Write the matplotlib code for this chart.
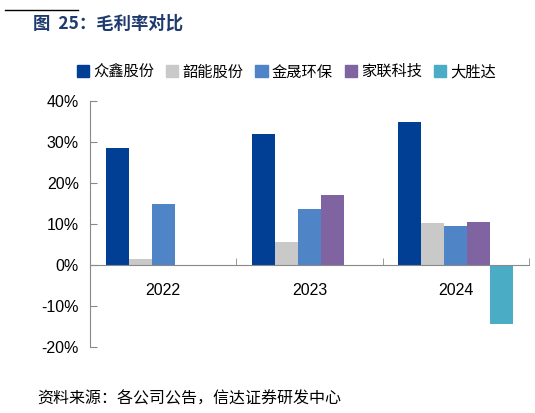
import numpy as np
import matplotlib.pyplot as plt
from matplotlib.ticker import PercentFormatter
from matplotlib.lines import Line2D

plt.rcParams['font.family'] = ['Noto Sans CJK SC', 'DejaVu Sans']
plt.rcParams['axes.unicode_minus'] = False

# data
years = ['2022', '2023', '2024']
companies = ['众鑫股份', '韶能股份', '金晟环保', '家联科技', '大胜达']
zhongxin = [0.286, 0.319, 0.350]
shaoneng = [0.014, 0.055, 0.102]
jinsheng = [0.149, 0.137, 0.096]
jialian = [np.nan, 0.172, 0.104]
dashengda = [np.nan, np.nan, -0.144]
colors = ['#003F94', '#C9C9C9', '#4F85C6', '#8064A2', '#4BACC6']

series = [zhongxin, shaoneng, jinsheng, jialian, dashengda]

fig = plt.figure(figsize=(5.35, 4.13), dpi=100)
ax = fig.add_axes([0.168, 0.160, 0.821, 0.595])

x = np.arange(len(years))
w = 0.157
for i, (vals, c) in enumerate(zip(series, colors)):
    ax.bar(x + (i - 2) * w, vals, width=w, color=c, label=companies[i])

ax.set_xlim(-0.5, 2.5)
ax.set_ylim(-0.2, 0.4)
ax.set_yticks([-0.2, -0.1, 0, 0.1, 0.2, 0.3, 0.4])
ax.yaxis.set_major_formatter(PercentFormatter(1.0, decimals=0))

axis_col = '#898989'
for s in ['top', 'right']:
    ax.spines[s].set_visible(False)
ax.spines['bottom'].set_position(('data', 0))
ax.spines['bottom'].set_color(axis_col)
ax.spines['left'].set_color(axis_col)

ax.set_xticks(x)
ax.set_xticklabels(years)
ax.set_xticks([-0.5, 0.5, 1.5, 2.5], minor=True)
ax.tick_params(axis='x', which='major', length=0, pad=13)
ax.tick_params(axis='x', which='minor', direction='in', length=5, color=axis_col)
ax.tick_params(axis='y', direction='in', length=5, color=axis_col, pad=8)
for lab in ax.get_xticklabels() + ax.get_yticklabels():
    lab.set_fontfamily(['Liberation Sans', 'DejaVu Sans'])
    lab.set_fontsize(11.5)
ax.set_axisbelow(False)

handles = [plt.Rectangle((0, 0), 1, 1, color=c) for c in colors]
fig.legend(handles, companies, loc='center', bbox_to_anchor=(0.535, 0.826),
           ncol=5, frameon=False, fontsize=11, handlelength=0.8,
           handleheight=0.8, handletextpad=0.25, columnspacing=0.8)

fig.text(0.062, 0.942, '图  25：毛利率对比', fontsize=12.5, fontweight='bold',
         color='#1F3A6E', va='center', ha='left')
fig.add_artist(Line2D([0.009, 0.146], [0.975, 0.975], color='black', lw=1))

fig.text(0.069, 0.033, '资料来源：各公司公告，信达证券研发中心', fontsize=11.5,
         style='italic', va='center', ha='left')

fig.savefig('out.png', dpi=100)
